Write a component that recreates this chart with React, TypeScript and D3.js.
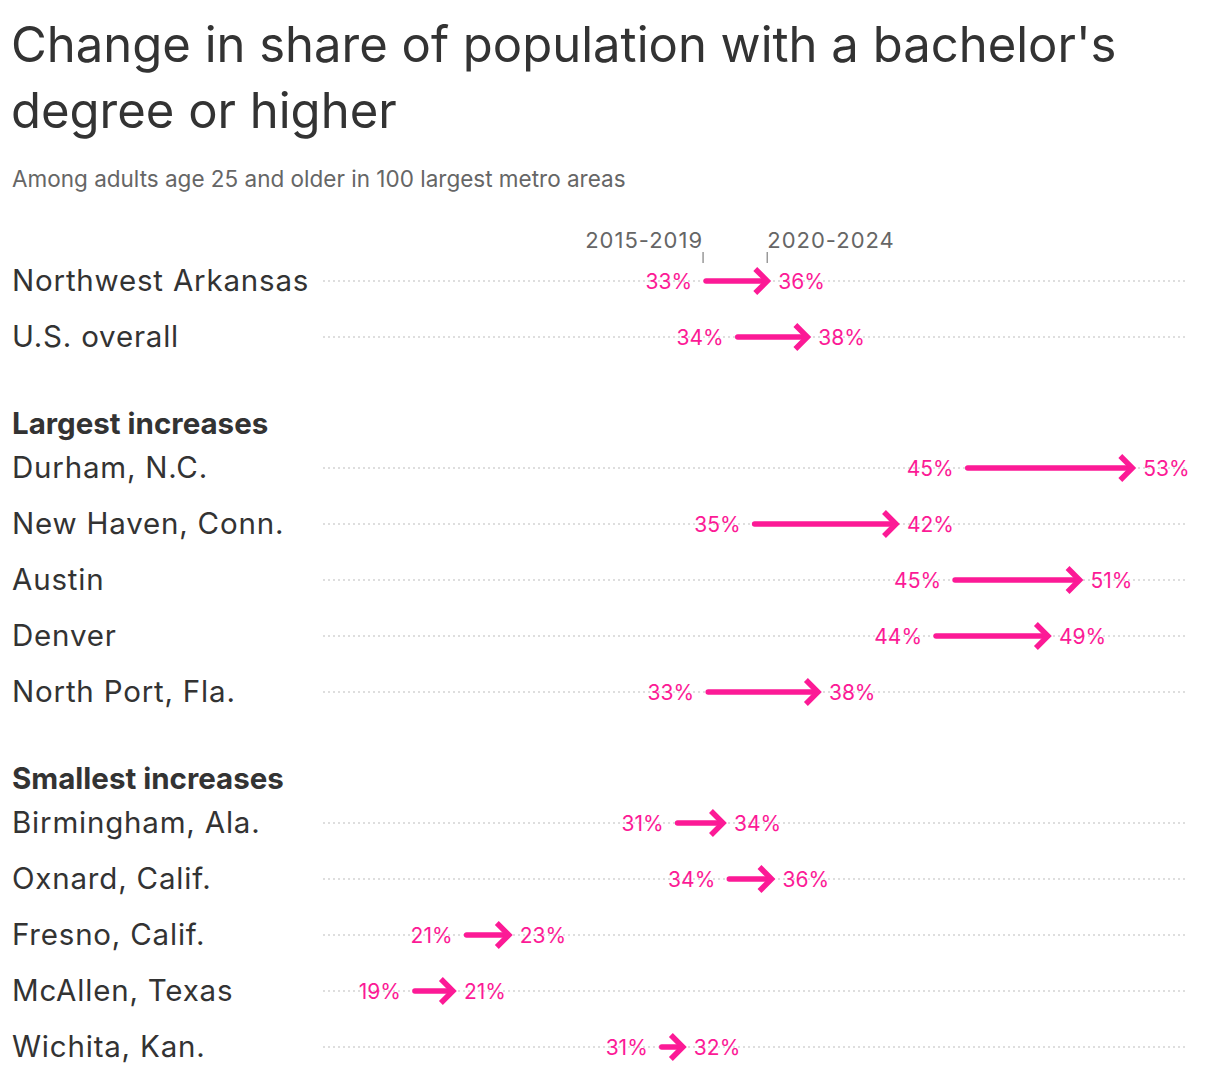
import React from 'react';
import * as d3 from 'd3';

// values (share of adults 25+ with bachelor's or higher)
const groups = ['', 'Largest increases', 'Smallest increases'];
const metros = [
  'Northwest Arkansas', 'U.S. overall',
  'Durham, N.C.', 'New Haven, Conn.', 'Austin', 'Denver', 'North Port, Fla.',
  'Birmingham, Ala.', 'Oxnard, Calif.', 'Fresno, Calif.', 'McAllen, Texas', 'Wichita, Kan.',
];
const metroGroup = [0, 0, 1, 1, 1, 1, 1, 2, 2, 2, 2, 2];
const share2019 = [32.8, 34.3, 45.2, 35.1, 44.6, 43.7, 32.9, 31.45, 33.9, 21.45, 19.0, 30.7];
const share2024 = [35.7, 37.6, 53.0, 41.8, 50.5, 49.0, 38.1, 33.6, 35.9, 23.45, 20.8, 31.7];
const periodLabels = ['2015-2019', '2020-2024'];

const titleLines = ["Change in share of population with a bachelor's", 'degree or higher'];
const subtitle = 'Among adults age 25 and older in 100 largest metro areas';

const WIDTH = 1220;
const HEIGHT = 1080;
const PINK = '#fc1a96';
const FONT = 'Inter, "Noto Sans", sans-serif';

const App: React.FC = () => {
  const x = d3.scaleLinear().domain([15, 55]).range([330.5, 1174.5]);

  // row positions: 56px step inside a group, bigger gap between groups
  const rowY: number[] = [];
  let y = 281;
  metros.forEach((_, i) => {
    if (i > 0) y += metroGroup[i] !== metroGroup[i - 1] ? 131 : 56;
    rowY.push(y);
  });

  const headers = groups
    .map((g, gi) => ({ g, y: rowY[metroGroup.indexOf(gi)] - 34 }))
    .filter(d => d.g);

  const fmt = (v: number) => `${Math.round(v)}%`;

  const tickA = x(share2019[0]) - 3;
  const tickB = x(share2024[0]);

  return (
    <div style={{ position: 'absolute', left: 0, top: 0 }}>
      <svg width={WIDTH} height={HEIGHT} style={{ display: 'block', fontFamily: FONT }}>
        <rect width={WIDTH} height={HEIGHT} fill="#fff" />
        {titleLines.map((t, i) => (
          <text key={t} x={11} y={62 + i * 66} fontSize={49} fill="#333">
            {t}
          </text>
        ))}
        <text x={12} y={187} fontSize={22.5} fill="#666">{subtitle}</text>

        {/* period labels and ticks */}
        <text x={tickA} y={248} fontSize={22} fill="#666" textAnchor="end" letterSpacing={1}>
          {periodLabels[0]}
        </text>
        <text x={tickB} y={248} fontSize={22} fill="#666" textAnchor="start" letterSpacing={1}>
          {periodLabels[1]}
        </text>
        <line x1={tickA} x2={tickA} y1={252} y2={263} stroke="#999" strokeWidth={1.5} />
        <line x1={tickB} x2={tickB} y1={252} y2={263} stroke="#999" strokeWidth={1.5} />

        {headers.map(h => (
          <text key={h.g} x={12} y={h.y} fontSize={29.5} fontWeight={700} fill="#333">{h.g}</text>
        ))}

        {metros.map((m, i) => {
          const ry = rowY[i];
          const xs = x(share2019[i]);
          const xe = x(share2024[i]);
          return (
            <g key={m}>
              <line x1={323} x2={1187} y1={ry} y2={ry} stroke="#d4d4d4" strokeWidth={1.5} strokeDasharray="2 3" />
              <text x={12} y={ry + 10} fontSize={29.5} fill="#333" letterSpacing={0.8}>{m}</text>
              <line x1={xs} x2={xe - 2} y1={ry} y2={ry} stroke={PINK} strokeWidth={5.5} strokeLinecap="round" />
              <path
                d={`M${xe - 12},${ry - 12}L${xe},${ry}L${xe - 12},${ry + 12}`}
                fill="none"
                stroke={PINK}
                strokeWidth={5.5}
                strokeLinejoin="miter"
              />
              <text x={xs - 14} y={ry + 8} fontSize={21} fill={PINK} textAnchor="end">{fmt(share2019[i])}</text>
              <text x={xe + 11} y={ry + 8} fontSize={21} fill={PINK}>{fmt(share2024[i])}</text>
            </g>
          );
        })}
      </svg>
    </div>
  );
};

export default App;
